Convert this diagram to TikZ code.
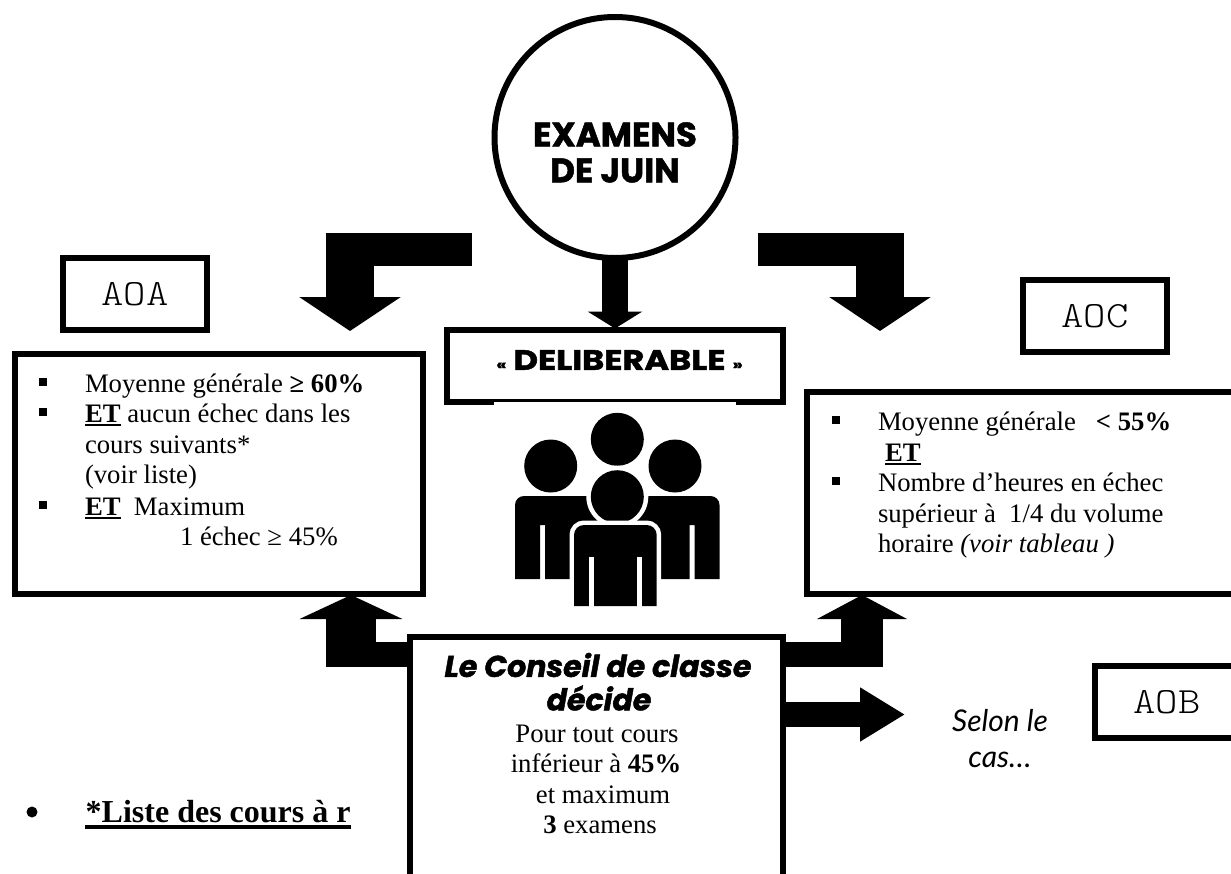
\documentclass[tikz,border=0pt]{standalone}
\usepackage{fontspec}
\usepackage{graphicx}
\usetikzlibrary{arrows.meta}
\setmainfont{Liberation Serif}
\newfontfamily\decofont[FakeBold=1.5]{Poppins}
\newfontfamily\handfont{Lato}
\newcommand\ulbf[1]{\setbox0\hbox{\textbf{#1}}\rlap{\rule[-3.5pt]{\wd0}{2pt}}\box0\relax}
\newcommand\mono[1]{\scalebox{1.15}[1]{\fontsize{37}{37}\fontfamily{lmtt}\fontseries{l}\selectfont #1}}
\tikzset{
  x=1pt,y=-1pt,
  boxed/.style={draw=black,line width=6pt,fill=white,inner sep=0pt,outer sep=0pt,anchor=north west},
  tag/.style={boxed,minimum width=144pt,minimum height=72pt},
  body/.style={anchor=base west,inner sep=0pt,outer sep=0pt,font=\fontsize{26.7}{30}\selectfont},
  bodyc/.style={anchor=base,inner sep=0pt,outer sep=0pt,font=\fontsize{26.7}{30}\selectfont},
  deco/.style={anchor=center,inner sep=0pt,outer sep=0pt,font=\fontsize{34}{34}\selectfont\decofont\bfseries},
  decoit/.style={anchor=center,inner sep=0pt,outer sep=0pt,font=\fontsize{30}{30}\selectfont\decofont\bfseries\itshape},
  hand/.style={anchor=center,inner sep=0pt,font=\fontsize{30}{30}\selectfont\handfont\itshape},
  bul/.style={fill=black,inner sep=0pt,outer sep=0pt,minimum size=8pt,rectangle},
  bar/.style={draw=black,line cap=butt},
  tipped/.style n args={3}{draw=black,line width=#1pt,-{Triangle[width=#2pt,length=#3pt]}},
  person/.style={fill=black},
}
\begin{document}
\begin{tikzpicture}
\useasboundingbox (0,0) rectangle (1231,873);
\clip (0,0) rectangle (1231,873);
\fill[white] (0,0) rectangle (1231,873);

% boxes
\node[boxed,circle,anchor=center,minimum size=241pt] (exam) at (615,137.5) {};
\node[deco] (t1) at (615,134.5) {EXAMENS};
\node[deco] (t2) at (615,170.5) {DE JUIN};

\node[tag] (aoa) at (63,258) {\mono{AOA}};
\node[tag] (aoc) at (1023,280) {\mono{AOC}};
\node[tag,minimum width=160pt] (aob) at (1095,666) {\hspace*{-16pt}\mono{AOB}};

\node[boxed,minimum width=408pt,minimum height=240pt] (boxa) at (15,354) {};
\node[boxed,minimum width=440pt,minimum height=202pt] (boxc) at (807,392) {};
\node[boxed,minimum width=336pt,minimum height=72pt] (delib) at (447,330) {};
\node[boxed,minimum width=373pt,minimum height=270pt] (cons) at (410,637) {};

% coordinates for block connectors
\coordinate (la0) at (472,249.5);
\coordinate (la1) at (326,249.5);
\coordinate (la2) at (350,233);
\coordinate (la3) at (350,331);
\coordinate (ra0) at (758,249.5);
\coordinate (ra1) at (904,249.5);
\coordinate (ra2) at (880,233);
\coordinate (ra3) at (880,331);
\coordinate (ca3) at (615,328.5);
\coordinate (lb1) at (326,654.5);
\coordinate (lb2) at (351,667);
\coordinate (lb3) at (351,595);
\coordinate (rb1) at (883,654.5);
\coordinate (rb2) at (862,667);
\coordinate (rb3) at (862,595);
\coordinate (mid0) at (786,714.5);
\coordinate (mid3) at (905,714.5);

\draw[bar,line width=33pt] (la0) -- (la1);
\draw[tipped={48}{100}{34}] (la2) -- (la3);
\draw[bar,line width=33pt] (ra0) -- (ra1);
\draw[tipped={48}{100}{34}] (ra2) -- (ra3);
\draw[tipped={26}{54}{17}] (exam.south) -- (ca3);
\draw[bar,line width=25pt] (cons.west |- lb1) -- (lb1);
\draw[tipped={50}{102}{24}] (lb2) -- (lb3);
\draw[bar,line width=25pt] (cons.east |- rb1) -- (rb1);
\draw[tipped={42}{89}{24}] (rb2) -- (rb3);
\draw[tipped={25}{51}{45}] (mid0) -- (mid3);

% people icon (white ground hides the box's lower edge)
\fill[white] (494,401.5) rectangle (736,420);
\fill[person] (515,579) -- (515,505) arc[start angle=180,end angle=270,radius=9] -- (710.5,496) arc[start angle=270,end angle=360,radius=9] -- (719.5,579)
  -- (694.5,579) -- (694.5,525) -- (689.5,525) -- (689.5,579) -- (545,579) -- (545,525) -- (540,525) -- (540,579) -- cycle;
\fill[person] (550.7,466) circle[radius=26.5];
\fill[person] (675,466) circle[radius=26.5];
\fill[person] (617.3,439.3) circle[radius=26.5];
\fill[white] (617.3,496.7) circle[radius=31];
\fill[person] (617.3,496.7) circle[radius=26.5];
\draw[draw=white,line width=9pt] (574,606) -- (574,535) arc[start angle=180,end angle=270,radius=10] -- (646.7,525) arc[start angle=270,end angle=360,radius=10] -- (656.7,606);
\fill[white] (574,525) rectangle (656.7,530);
\fill[person] (574,606) -- (574,535) arc[start angle=180,end angle=270,radius=10] -- (646.7,525) arc[start angle=270,end angle=360,radius=10] -- (656.7,606) -- cycle;
\fill[white] (589,557.3) rectangle (594,610);
\fill[white] (636.7,557.3) rectangle (641.7,610);

% DELIBERABLE
\node[anchor=center,inner sep=0pt,outer sep=0pt] (dt) at (619.5,360) {\scalebox{1.2}[1]{\fontsize{28}{28}\selectfont\decofont\bfseries{\fontsize{15}{15}\selectfont «}\ DELIBERABLE\ {\fontsize{15}{15}\selectfont »}}};

% AOA text
\node[bul] (b1) at (43,382) {};
\node[bul] (b2) at (43,412) {};
\node[bul] (b3) at (43,505) {};
\node[body] (a1) at (85,392) {Moyenne générale \textbf{≥ 60\%}};
\node[body] (a2) at (85,422) {\ulbf{ET} aucun échec dans les};
\node[body] (a3) at (85,453) {cours suivants*};
\node[body] (a4) at (85,483) {(voir liste)};
\node[body] (a5) at (85,515) {\ulbf{ET}\ \ Maximum};
\node[body] (a6) at (180,545) {1 échec ≥ 45\%};

% AOC text
\node[bul] (c1) at (836,420) {};
\node[bul] (c2) at (836,481) {};
\node[body] (d1) at (878,430) {Moyenne générale\ \ \ \textbf{< 55\%}};
\node[body] (d2) at (885,461) {\ulbf{ET}};
\node[body] (d3) at (878,491) {Nombre d’heures en échec};
\node[body] (d4) at (878,522) {supérieur à\ \ 1/4 du volume};
\node[body] (d5) at (878,552) {horaire \textit{(voir tableau )}};

% Conseil text
\node[decoit] (e1) at (598,665) {Le Conseil de classe};
\node[decoit] (e2) at (599,698) {décide};
\node[bodyc] (e3) at (597,742) {Pour tout cours};
\node[bodyc] (e4) at (596,772) {inférieur à \textbf{45\%}};
\node[bodyc] (e5) at (603,803) {et maximum};
\node[bodyc] (e6) at (600,833) {\textbf{3} examens};

% Selon le cas
\node[hand] (s1) at (1000,721) {Selon le};
\node[hand] (s2) at (1000,760) {cas…};

% list
\node[circle,fill=black,inner sep=0pt,outer sep=0pt,minimum size=11pt] (lb) at (32,812) {};
\node[anchor=base west,inner sep=0pt,outer sep=0pt,font=\fontsize{32}{32}\selectfont\bfseries] (lt) at (85.7,822.7) {*Liste des cours à r};
\fill[black] (85,825) rectangle (351,829);
\end{tikzpicture}
\end{document}
